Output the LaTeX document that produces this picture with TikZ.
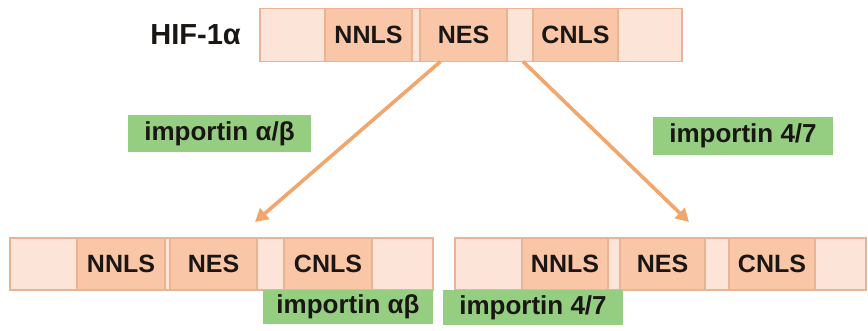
\documentclass[tikz,border=0pt]{standalone}
\usepackage{fontspec}
\setmainfont{Liberation Sans}
\usepackage{tikz}
\usetikzlibrary{positioning,arrows.meta}
\definecolor{hfink}{HTML}{1A1614}
\definecolor{hfpeach}{HTML}{F9C6A7}
\definecolor{hflight}{HTML}{FDE4D8}
\definecolor{hfedge}{HTML}{E9B394}
\definecolor{hfgreen}{HTML}{95CE81}
\definecolor{hfarrow}{HTML}{F1A66D}
\newcommand{\segfont}{\fontsize{25}{28}\selectfont\bfseries}
\newcommand{\impfont}{\fontsize{26}{28}\selectfont\bfseries}
\tikzset{
  seg/.style={draw=hfedge,line width=1.2pt,fill=hflight,minimum height=53pt,inner sep=0pt,outer sep=0pt,font=\segfont,text=hfink},
  sig/.style={seg,fill=hfpeach},
  imp/.style={fill=hfgreen,inner sep=0pt,outer sep=0pt,font=\impfont,text=hfink},
  arr/.style={-{Triangle[length=13pt,width=14pt]},line width=3.6pt,draw=hfarrow},
}

\begin{document}
\begin{tikzpicture}[x=1pt,y=-1pt,node distance=0pt]
  \useasboundingbox (0,0) rectangle (868,331);

  % HIF-1a on top
  \node[seg,minimum width=65pt,anchor=west] (t0) at (260,35) {};
  \node[sig,minimum width=87pt,right=of t0] (t1) {NNLS};
  \node[seg,minimum width=8pt,right=of t1] (t2) {};
  \node[sig,minimum width=87pt,right=of t2] (t3) {NES};
  \node[seg,minimum width=26pt,right=of t3] (t4) {};
  \node[sig,minimum width=85pt,right=of t4] (t5) {CNLS};
  \node[seg,minimum width=64pt,right=of t5] (t6) {};
  \node[inner sep=0pt,font=\fontsize{29}{32}\selectfont\bfseries,text=hfink,left=19pt of t0] (hif) {HIF-1α};

  % left copy
  \node[seg,minimum height=52pt,minimum width=67pt,anchor=west] (l0) at (10,264) {};
  \node[sig,minimum height=52pt,minimum width=88pt,right=of l0] (l1) {NNLS};
  \node[seg,minimum height=52pt,minimum width=5pt,right=of l1] (l2) {};
  \node[sig,minimum height=52pt,minimum width=87pt,right=of l2] (l3) {NES};
  \node[seg,minimum height=52pt,minimum width=27pt,right=of l3] (l4) {};
  \node[sig,minimum height=52pt,minimum width=88pt,right=of l4] (l5) {CNLS};
  \node[seg,minimum height=52pt,minimum width=61pt,right=of l5] (l6) {};

  % right copy
  \node[seg,minimum height=52pt,minimum width=67pt,anchor=west] (r0) at (455,264) {};
  \node[sig,minimum height=52pt,minimum width=86pt,right=of r0] (r1) {NNLS};
  \node[seg,minimum height=52pt,minimum width=12pt,right=of r1] (r2) {};
  \node[sig,minimum height=52pt,minimum width=85pt,right=of r2] (r3) {NES};
  \node[seg,minimum height=52pt,minimum width=24pt,right=of r3] (r4) {};
  \node[sig,minimum height=52pt,minimum width=86pt,right=of r4] (r5) {CNLS};
  \node[seg,minimum height=52pt,minimum width=51pt,right=of r5] (r6) {};

  % importins
  \node[imp,minimum width=183pt,minimum height=37pt] (impab) at (219.5,133.5) {importin α/β};
  \node[imp,minimum width=180pt,minimum height=38pt] (imp47) at (743,136) {importin 4/7};
  \node[imp,minimum width=170pt,minimum height=34pt,anchor=north east] (impabL) at (l6.south east) {importin αβ};
  \node[imp,minimum width=180pt,minimum height=35pt,anchor=north west] (imp47R) at ([xshift=-12pt]r0.south west) {importin 4/7};

  \coordinate (tipL) at (255,222);
  \coordinate (tipR) at (689,222);
  \draw[arr] ([xshift=-23pt]t3.south) -- (tipL);
  \draw[arr] ([xshift=3pt]t4.south) -- (tipR);
\end{tikzpicture}
\end{document}
